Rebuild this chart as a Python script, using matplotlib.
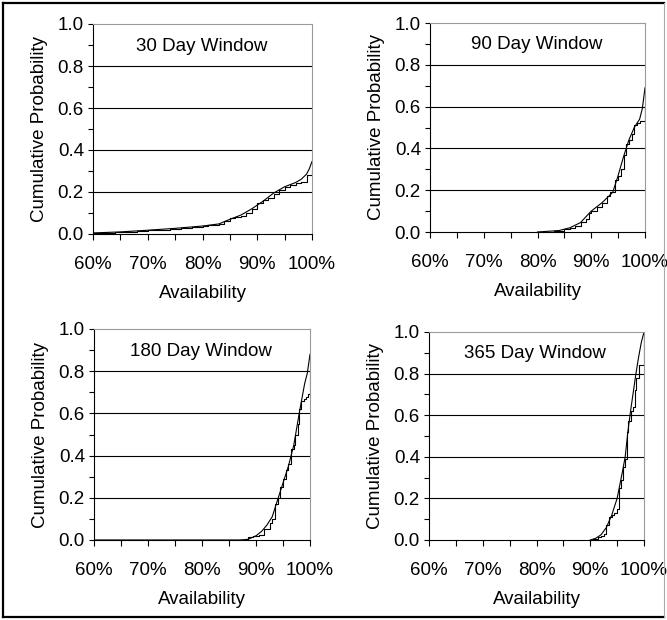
import matplotlib
matplotlib.use("Agg")
import matplotlib.pyplot as plt
from matplotlib.lines import Line2D
from matplotlib.ticker import MultipleLocator, FuncFormatter

plt.rcParams["font.family"] = ["Liberation Sans", "DejaVu Sans"]
plt.rcParams["font.size"] = 13.5

# --- data (availability %, cumulative probability) ---
titles = ["30 Day Window", "90 Day Window", "180 Day Window", "365 Day Window"]

# fitted (smooth) curves
fit30_x = [60, 65, 70, 75, 80, 83, 85, 87, 89, 91, 93, 95, 97, 98, 99, 99.5, 100]
fit30_p = [0.005, 0.01, 0.018, 0.027, 0.038, 0.048, 0.07, 0.09, 0.12, 0.155, 0.195,
           0.225, 0.245, 0.26, 0.285, 0.31, 0.345]
fit90_x = [80, 84, 86, 88, 90, 92, 94, 95, 96, 97, 98, 99, 99.5, 100]
fit90_p = [0.0, 0.007, 0.02, 0.045, 0.1, 0.14, 0.19, 0.27, 0.36, 0.44, 0.5, 0.54, 0.59, 0.69]
fit180_x = [60, 87, 88.5, 90, 91, 92, 93, 94, 95, 96, 97, 98, 99, 99.5, 100]
fit180_p = [0.0, 0.0, 0.003, 0.02, 0.04, 0.07, 0.11, 0.19, 0.27, 0.35, 0.45, 0.6, 0.74, 0.79, 0.88]
fit365_x = [90, 91, 92, 93, 94, 95, 96, 96.5, 97, 97.5, 98, 98.5, 99, 99.5, 100]
fit365_p = [0.0, 0.008, 0.025, 0.06, 0.12, 0.2, 0.33, 0.4, 0.52, 0.62, 0.71, 0.8, 0.88, 0.95, 1.0]

# empirical (stepped) curves
emp30_x = [60, 62, 64, 66, 68, 70, 72, 74, 76, 78, 80, 81, 82, 83, 84, 85, 86, 87, 88,
           89, 90, 91, 92, 93, 94, 95, 96, 97, 98, 99, 100]
emp30_p = [0.004, 0.006, 0.008, 0.011, 0.014, 0.018, 0.021, 0.025, 0.029, 0.033, 0.037,
           0.041, 0.045, 0.05, 0.06, 0.075, 0.08, 0.085, 0.1, 0.12, 0.15, 0.16, 0.17,
           0.19, 0.21, 0.225, 0.235, 0.245, 0.25, 0.28, 0.31]
emp90_x = [80, 83, 85, 86, 87, 88, 89, 89.5, 90, 91, 92, 93, 93.5, 94, 94.5, 95, 95.5,
           96, 96.5, 97, 97.5, 98, 98.5, 99, 99.6, 100]
emp90_p = [0.0, 0.005, 0.015, 0.02, 0.03, 0.05, 0.06, 0.09, 0.1, 0.12, 0.14, 0.17, 0.19,
           0.19, 0.25, 0.27, 0.3, 0.37, 0.42, 0.44, 0.47, 0.51, 0.52, 0.53, 0.53, 0.60]
emp180_x = [60, 88, 88.5, 89.5, 90.5, 91.5, 92.5, 93, 93.5, 94, 94.5, 95, 95.5, 96, 96.5,
            97, 97.3, 97.7, 98, 98.4, 98.8, 99.2, 99.7, 100]
emp180_p = [0.0, 0.005, 0.015, 0.02, 0.025, 0.05, 0.08, 0.1, 0.17, 0.2, 0.25, 0.29, 0.33,
            0.36, 0.43, 0.45, 0.5, 0.55, 0.62, 0.66, 0.67, 0.68, 0.69, 0.80]
emp365_x = [90.5, 91.5, 92, 92.5, 93, 93.5, 94, 94.5, 95, 95.3, 95.7, 96, 96.4, 96.8,
            97.1, 97.5, 97.9, 98.3, 98.6, 99.0, 99.5, 100]
emp365_p = [0.005, 0.015, 0.02, 0.03, 0.07, 0.11, 0.12, 0.13, 0.15, 0.25, 0.29, 0.35,
            0.39, 0.52, 0.57, 0.62, 0.64, 0.72, 0.78, 0.84, 0.84, 1.0]

fits = [(fit30_x, fit30_p), (fit90_x, fit90_p), (fit180_x, fit180_p), (fit365_x, fit365_p)]
emps = [(emp30_x, emp30_p), (emp90_x, emp90_p), (emp180_x, emp180_p), (emp365_x, emp365_p)]

W, H = 667, 620
fig = plt.figure(figsize=(W / 100, H / 100), dpi=100)

# axes boxes in pixels: left, top, right, bottom
boxes = [(93, 24, 312, 234), (430, 23, 645, 232), (94, 329, 310, 540), (429, 332, 644, 540)]

for (l, t, r, b), title, (fx, fp), (ex, ep) in zip(boxes, titles, fits, emps):
    ax = fig.add_axes([l / W, 1 - b / H, (r - l) / W, (b - t) / H])
    ax.plot(fx, fp, color="black", lw=0.8)
    ax.plot(ex, ep, color="black", lw=0.8, drawstyle="steps-post")
    ax.set_xlim(60, 100)
    ax.set_ylim(0, 1)
    ax.xaxis.set_major_locator(MultipleLocator(10))
    ax.xaxis.set_minor_locator(MultipleLocator(5))
    ax.yaxis.set_major_locator(MultipleLocator(0.2))
    ax.yaxis.set_minor_locator(MultipleLocator(0.1))
    ax.xaxis.set_major_formatter(FuncFormatter(lambda v, pos: f"{v:.0f}%"))
    ax.yaxis.set_major_formatter(FuncFormatter(lambda v, pos: f"{v:.1f}"))
    ax.tick_params(axis="x", which="both", direction="out", length=4, width=0.8, pad=11.5)
    ax.tick_params(axis="y", which="both", direction="out", length=3.5, width=0.8, pad=3)
    for y in [0.2, 0.4, 0.6, 0.8]:
        ax.axhline(y, color="black", lw=0.8, zorder=0)
    ax.spines["left"].set_color("black")
    ax.spines["bottom"].set_color("black")
    ax.spines["top"].set_color("#9a9a9a")
    ax.spines["right"].set_color("#9a9a9a")
    for s in ax.spines.values():
        s.set_linewidth(0.8)
    ax.set_xlabel("Availability", labelpad=9)
    ax.set_ylabel("Cumulative Probability", labelpad=7)
    ax.text(0.495, 0.895, title, transform=ax.transAxes, ha="center", va="center")

# outer frame
fig.add_artist(Line2D([3 / W, 3 / W], [1 - 3 / H, 1 - 617 / H], color="black", lw=1.6))
fig.add_artist(Line2D([3 / W, 664 / W], [1 - 3 / H, 1 - 3 / H], color="black", lw=1.6))
fig.add_artist(Line2D([3 / W, 664 / W], [1 - 617 / H, 1 - 617 / H], color="black", lw=1.6))
fig.add_artist(Line2D([664 / W, 664 / W], [1 - 3 / H, 1 - 617 / H], color="#aaaaaa", lw=0.8))

fig.savefig("out.png", dpi=100)
